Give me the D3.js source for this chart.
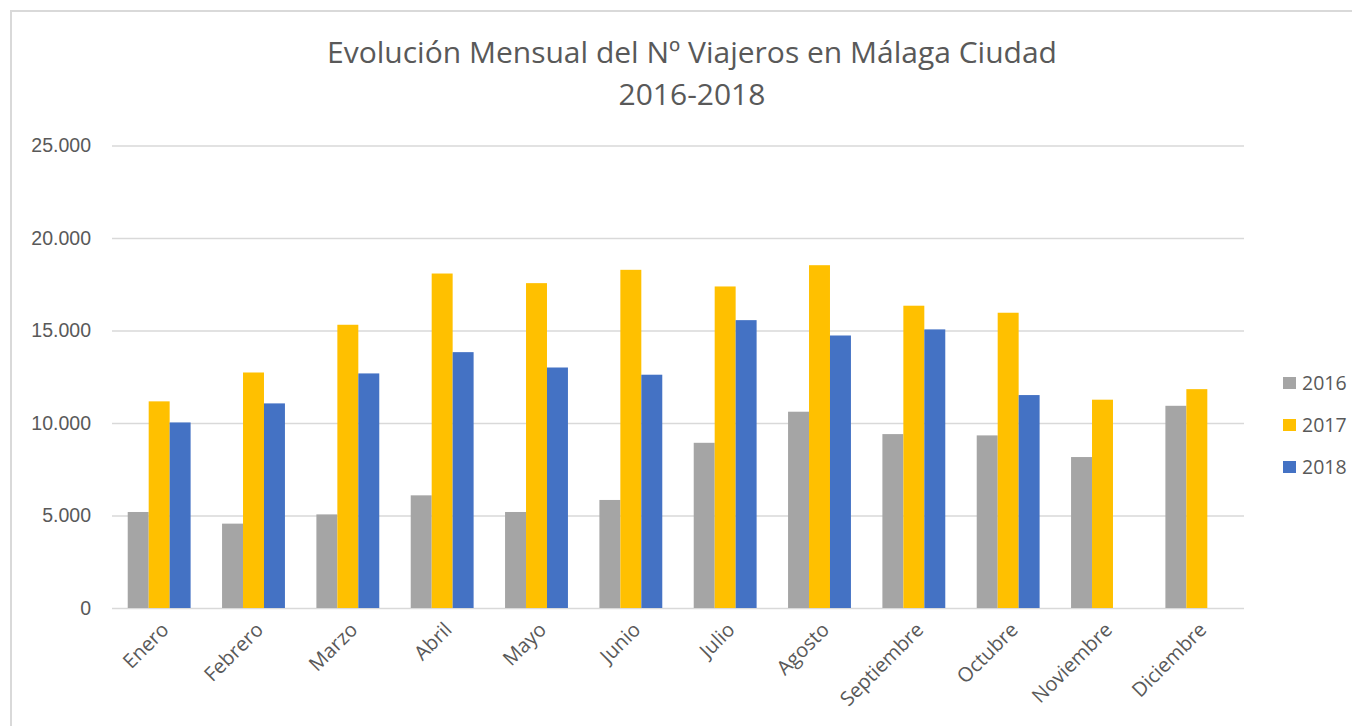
<!DOCTYPE html>
<html>
<head>
<meta charset="utf-8">
<script src="https://cdn.jsdelivr.net/npm/d3@7"></script>
<style>
  body { margin: 0; background: #fff; }
  svg { display: block; font-family: "Open Sans", sans-serif; }
</style>
</head>
<body>
<div id="container"></div>
<script>
var months = ["Enero", "Febrero", "Marzo", "Abril", "Mayo", "Junio", "Julio", "Agosto", "Septiembre", "Octubre", "Noviembre", "Diciembre"];
var years = ["2016", "2017", "2018"];
var v2016 = [5190, 4560, 5060, 6090, 5190, 5840, 8930, 10610, 9400, 9330, 8160, 10930];
var v2017 = [11170, 12730, 15310, 18080, 17560, 18280, 17380, 18530, 16340, 15960, 11260, 11830];
var v2018 = [10030, 11060, 12680, 13830, 13000, 12610, 15560, 14730, 15060, 11510, null, null];
var yTicks = [0, 5000, 10000, 15000, 20000, 25000];
var colors = ["#a5a5a5", "#ffc000", "#4472c4"];

var width = 1352, height = 726;
var margin = { top: 145.5, right: 108, bottom: 118, left: 112 };

var svg = d3.select("#container").append("svg")
    .attr("width", width)
    .attr("height", height);

// chart frame (only top and left edges are visible in the capture)
svg.append("path")
    .attr("d", `M 11 ${height} L 11 11 L ${width} 11`)
    .attr("fill", "none")
    .attr("stroke", "#d9d9d9")
    .attr("stroke-width", 2);

var es = d3.formatLocale({ decimal: ",", thousands: ".", grouping: [3], currency: ["", " €"] });
var fmt = es.format(",");

var x = d3.scaleBand()
    .domain(months)
    .range([margin.left, width - margin.right])
    .paddingInner(1 / 3)
    .paddingOuter(1 / 6);

var xs = d3.scaleBand()
    .domain(years)
    .range([0, x.bandwidth()]);

var y = d3.scaleLinear()
    .domain([0, 25000])
    .range([height - margin.bottom, margin.top]);

// gridlines + y labels
var yAxis = svg.append("g")
    .attr("transform", `translate(${margin.left},0)`)
    .call(d3.axisLeft(y).tickValues(yTicks).tickFormat(fmt)
        .tickSize(-(width - margin.left - margin.right)).tickPadding(21));
yAxis.select(".domain").remove();
yAxis.selectAll(".tick line").attr("stroke", "#d9d9d9").attr("stroke-width", 1.5);
yAxis.selectAll(".tick text")
    .attr("fill", "#595959")
    .style("font-size", "19.5px");

var series = [v2016, v2017, v2018];

var groups = svg.append("g").selectAll("g")
    .data(months)
    .join("g")
    .attr("transform", d => `translate(${x(d)},0)`);

groups.selectAll("rect")
    .data((m, i) => years.map((yr, k) => ({ year: yr, value: series[k][i], k: k })).filter(d => d.value != null))
    .join("rect")
    .attr("x", d => xs(d.year))
    .attr("width", xs.bandwidth())
    .attr("y", d => y(d.value))
    .attr("height", d => y(0) - y(d.value))
    .attr("fill", d => colors[d.k]);

// x labels
svg.append("g").selectAll("text")
    .data(months)
    .join("text")
    .attr("transform", d => `translate(${x(d) + x.bandwidth() / 2 + 6},${y(0) + 18}) rotate(-45)`)
    .attr("text-anchor", "end")
    .attr("dy", "0.35em")
    .attr("fill", "#595959")
    .style("font-size", "20px")
    .text(d => d);

// title
var title = svg.append("text")
    .attr("x", 692)
    .attr("text-anchor", "middle")
    .attr("fill", "#595959")
    .style("font-size", "30px");
title.append("tspan").attr("x", 692).attr("y", 63).text("Evolución Mensual del Nº Viajeros en Málaga Ciudad");
title.append("tspan").attr("x", 692).attr("y", 105).text("2016-2018");

// legend
var legend = svg.append("g").selectAll("g")
    .data(years)
    .join("g")
    .attr("transform", (d, i) => `translate(1283,${377 + i * 42})`);
legend.append("rect")
    .attr("width", 13)
    .attr("height", 12)
    .attr("fill", (d, i) => colors[i]);
legend.append("text")
    .attr("x", 19)
    .attr("y", 13)
    .attr("fill", "#595959")
    .style("font-size", "19.5px")
    .text(d => d);
</script>
</body>
</html>
